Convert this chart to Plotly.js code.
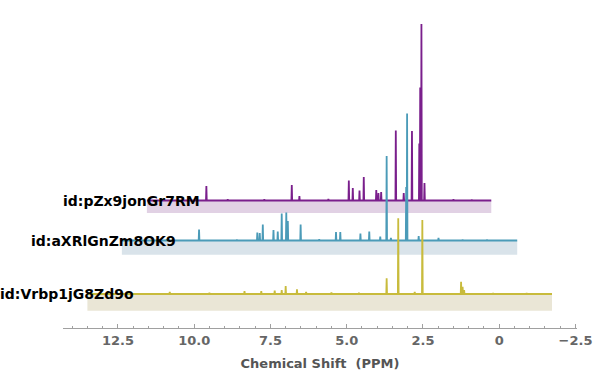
<!DOCTYPE html>
<html>
<head>
<meta charset="utf-8">
<script src="https://cdn.plot.ly/plotly-3.0.1.min.js"></script>
<style>html,body{margin:0;padding:0;background:#fff;}#chart{width:600px;height:379px;}</style>
</head>
<body>
<div id="chart"></div>
<script>
// ---- Data (chemical shift in ppm, intensity in arbitrary units) ----
const sampleIds = ["id:pZx9jonGr7RM", "id:aXRlGnZm8OK9", "id:Vrbp1jG8Zd9o"];

const purpleRange = [11.55, 0.26];
const purpleShift = [9.60, 6.80, 6.55, 4.93, 4.80, 4.58, 4.44, 4.03, 3.96, 3.87, 3.39, 3.13, 2.86, 2.62, 2.59, 2.55, 2.45, 8.9, 7.7, 5.6, 1.5, 0.9];
const purpleIntensity = [14.5, 15.5, 4.5, 20, 12.5, 10, 23.5, 10.5, 7.5, 8.5, 70, 7.5, 69.5, 57, 113, 176.5, 17.5, 1.2, 1.2, 1.5, 1.2, 1.0];

const blueRange = [12.37, -0.59];
const blueShift = [9.84, 7.93, 7.85, 7.75, 7.40, 7.26, 7.13, 6.98, 6.93, 6.51, 5.35, 5.21, 4.55, 4.26, 3.90, 3.69, 3.55, 3.05, 3.02, 2.64, 1.99, 10.9, 8.6, 5.9, 1.2, 0.4];
const blueIntensity = [11, 8, 7.5, 16, 10.5, 9, 27, 28, 19.5, 16, 8.5, 8.5, 7, 9, 4, 84.5, 2.5, 53.5, 127, 4.5, 2.5, 1.2, 1.0, 1.2, 1.0, 1.0];

const yellowRange = [13.5, -1.73];
const yellowShift = [10.80, 8.35, 7.80, 7.36, 7.13, 7.00, 6.63, 6.33, 3.69, 3.31, 2.77, 2.52, 1.25, 1.20, 1.15, 12.2, 9.5, 5.5, 4.6, 0.2, -0.9];
const yellowIntensity = [2, 3, 3, 3.3, 4, 8, 4.7, 2, 15.7, 75.7, 2, 74, 12.3, 7.3, 4, 1.2, 1.2, 1.5, 1.2, 1.0, 1.0];

const tickValues = [12.5, 10, 7.5, 5, 2.5, 0, -2.5];
const tickLabels = ["12.5", "10.0", "7.5", "5.0", "2.5", "0", "\u22122.5"];

// ---- Styling / layout ----
const spectra = [
  {name: sampleIds[0], range: purpleRange, shift: purpleShift, inten: purpleIntensity,
   base: 127.5, band: 12.5, line: "#7a1f8c", fill: "#e1d1e4", labelX: 9.85},
  {name: sampleIds[1], range: blueRange, shift: blueShift, inten: blueIntensity,
   base: 87.5, band: 14.3, line: "#4b9bb8", fill: "#d9e3ea", labelX: 10.64},
  {name: sampleIds[2], range: yellowRange, shift: yellowShift, inten: yellowIntensity,
   base: 34, band: 16.7, line: "#c8bb3c", fill: "#eae6d6", labelX: 12.01}
];

const halfWidth = 0.012;
const traces = [];
const annotations = [];

spectra.forEach(s => {
  const hi = s.range[0], lo = s.range[1];
  traces.push({
    type: "scatter", mode: "lines",
    x: [hi, lo, lo, hi, hi],
    y: [s.base, s.base, s.base - s.band, s.base - s.band, s.base],
    fill: "toself", fillcolor: s.fill, line: {width: 0, color: s.fill},
    hoverinfo: "skip", showlegend: false
  });
  const idx = s.shift.map((v, i) => i).sort((a, b) => s.shift[b] - s.shift[a]);
  const xs = [hi], ys = [s.base];
  idx.forEach(i => {
    const p = s.shift[i], h = s.inten[i];
    xs.push(p + halfWidth, p, p - halfWidth);
    ys.push(s.base, s.base + h, s.base);
  });
  xs.push(lo); ys.push(s.base);
  traces.push({
    type: "scatter", mode: "lines", x: xs, y: ys,
    line: {color: s.line, width: 1.8}, name: s.name, showlegend: false
  });
  annotations.push({
    x: s.labelX, y: s.base, xref: "x", yref: "y",
    text: "<b>" + s.name + "</b>", showarrow: false,
    xanchor: "right", yanchor: "middle", xshift: 3,
    font: {family: "DejaVu Sans", size: 14, color: "#000"}
  });
});

const layout = {
  width: 600, height: 379,
  margin: {l: 63, r: 23, t: 15, b: 51},
  paper_bgcolor: "#fff", plot_bgcolor: "#fff",
  showlegend: false,
  xaxis: {
    range: [14.3, -2.55],
    showgrid: false, zeroline: false,
    showline: true, linecolor: "#a0a0a0", linewidth: 1,
    ticks: "inside", ticklen: 4, tickcolor: "#a0a0a0", tickwidth: 1,
    tickvals: tickValues, ticktext: tickLabels,
    tickfont: {family: "DejaVu Sans", size: 13, color: "#666", weight: "bold"},
    minor: {dtick: 0.5, ticks: "inside", ticklen: 2, tickcolor: "#a0a0a0"},
    title: {text: "<b>Chemical Shift  (PPM)</b>", font: {family: "DejaVu Sans", size: 13, color: "#555"}, standoff: 12}
  },
  yaxis: {range: [0, 313], visible: false, fixedrange: true},
  annotations: annotations
};

Plotly.newPlot("chart", traces, layout, {displayModeBar: false, staticPlot: true});
</script>
</body>
</html>
